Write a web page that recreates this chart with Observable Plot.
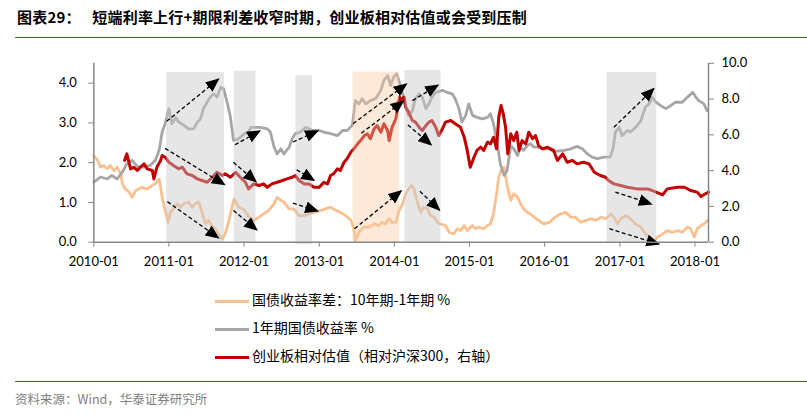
<!DOCTYPE html>
<html><head><meta charset="utf-8">
<script src="https://cdn.jsdelivr.net/npm/d3@7"></script>
<script src="https://cdn.jsdelivr.net/npm/@observablehq/plot@0.6"></script>
<style>
body{margin:0;background:#fff;}
#page{position:relative;width:807px;height:417px;overflow:hidden;font-family:"Noto Sans CJK SC",sans-serif;}
#title{position:absolute;left:17px;top:6px;font-size:15px;font-weight:bold;color:#000;white-space:nowrap;letter-spacing:0.2px;}
#title .num{margin-right:8px;}
.hr{position:absolute;left:15px;width:792px;height:0;border-top:1.5px solid #b0392e;}
#chart{position:absolute;left:0;top:50px;}
.leg{position:absolute;left:215px;font-size:14px;color:#000;white-space:nowrap;height:20px;line-height:20px;}
.leg span.sw{display:inline-block;width:34px;height:3px;vertical-align:middle;margin-right:3px;}
#src{position:absolute;left:15px;top:389px;font-size:12.5px;color:#7f7f7f;white-space:nowrap;}
</style></head>
<body><div id="page">
<div id="title"><span class="num">图表29：</span> 短端利率上行+期限利差收窄时期，创业板相对估值或会受到压制</div>
<div class="hr" style="top:37px"></div>
<div id="chart"></div>
<div class="leg" style="top:289px"><span class="sw" style="background:#fac090"></span>国债收益率差：10年期-1年期 %</div>
<div class="leg" style="top:317px"><span class="sw" style="background:#a6a6a6"></span>1年期国债收益率 %</div>
<div class="leg" style="top:345px"><span class="sw" style="background:#c00000"></span>创业板相对估值（相对沪深300，右轴）</div>
<div class="hr" style="top:381px"></div>
<div id="src">资料来源：Wind，华泰证券研究所</div>
</div>
<script>
// 1-year government bond yield (%), left axis; time in decimal years
const yieldYears = [2010.00,2010.09,2010.18,2010.24,2010.31,2010.38,2010.44,2010.51,2010.58,2010.67,2010.75,2010.82,2010.87,2010.91,2010.95,2011.00,2011.04,2011.09,2011.13,2011.20,2011.26,2011.33,2011.38,2011.42,2011.46,2011.51,2011.55,2011.60,2011.64,2011.69,2011.73,2011.78,2011.82,2011.86,2011.93,2012.00,2012.06,2012.09,2012.22,2012.31,2012.35,2012.40,2012.44,2012.49,2012.53,2012.60,2012.64,2012.68,2012.75,2012.82,2012.91,2013.00,2013.06,2013.15,2013.24,2013.31,2013.37,2013.44,2013.48,2013.53,2013.57,2013.62,2013.68,2013.75,2013.82,2013.86,2013.91,2013.95,2013.99,2014.03,2014.06,2014.11,2014.15,2014.19,2014.24,2014.28,2014.33,2014.37,2014.42,2014.46,2014.50,2014.55,2014.64,2014.70,2014.77,2014.81,2014.86,2014.90,2014.95,2014.99,2015.04,2015.10,2015.17,2015.24,2015.28,2015.32,2015.37,2015.41,2015.46,2015.50,2015.55,2015.59,2015.64,2015.68,2015.72,2015.77,2015.81,2015.86,2015.92,2015.99,2016.06,2016.12,2016.26,2016.35,2016.43,2016.50,2016.57,2016.63,2016.70,2016.79,2016.87,2016.91,2016.94,2016.99,2017.03,2017.10,2017.14,2017.21,2017.28,2017.34,2017.39,2017.43,2017.48,2017.54,2017.61,2017.68,2017.74,2017.83,2017.90,2017.97,2018.01,2018.05,2018.12,2018.16];
const yieldValues = [1.51,1.64,1.59,1.68,1.59,1.76,1.97,2.06,1.90,1.89,1.93,2.06,2.31,2.77,2.98,3.36,2.98,3.14,3.02,2.94,2.85,2.85,3.02,3.10,3.36,3.52,3.65,3.73,3.65,3.90,3.86,3.48,3.14,2.56,2.60,2.72,2.77,2.89,2.89,2.85,2.77,2.39,2.22,2.35,2.22,2.39,2.60,2.73,2.77,2.89,2.81,2.81,2.77,2.73,2.68,2.81,2.81,2.94,3.56,3.48,3.61,3.48,3.56,3.61,3.82,4.07,4.19,3.94,4.15,4.24,4.07,3.73,3.40,3.19,3.31,3.61,3.73,3.65,3.36,3.48,3.65,3.77,3.82,3.77,3.73,3.61,3.36,3.02,3.19,3.48,3.19,3.14,3.10,3.14,3.23,2.98,2.48,1.97,1.68,1.80,2.43,2.35,2.18,2.39,2.31,2.43,2.48,2.39,2.39,2.35,2.35,2.28,2.31,2.35,2.41,2.35,2.22,2.14,2.10,2.14,2.14,2.35,2.77,2.89,2.68,2.81,2.77,2.89,3.06,3.40,3.48,3.65,3.52,3.44,3.36,3.44,3.52,3.52,3.65,3.77,3.65,3.56,3.48,3.31];

// Spread 10Y - 1Y (%), left axis
const spreadYears = [2010.00,2010.05,2010.09,2010.13,2010.18,2010.22,2010.27,2010.31,2010.36,2010.38,2010.42,2010.47,2010.51,2010.56,2010.60,2010.64,2010.71,2010.78,2010.82,2010.87,2010.89,2010.91,2010.95,2010.99,2011.02,2011.06,2011.11,2011.15,2011.20,2011.26,2011.31,2011.35,2011.40,2011.44,2011.49,2011.53,2011.58,2011.62,2011.66,2011.71,2011.75,2011.80,2011.84,2011.87,2011.93,2012.00,2012.06,2012.13,2012.20,2012.26,2012.33,2012.40,2012.44,2012.49,2012.53,2012.60,2012.66,2012.73,2012.80,2012.86,2012.93,2013.02,2013.08,2013.15,2013.22,2013.28,2013.35,2013.42,2013.46,2013.48,2013.53,2013.59,2013.66,2013.73,2013.79,2013.84,2013.88,2013.93,2013.97,2014.02,2014.06,2014.11,2014.15,2014.19,2014.23,2014.26,2014.30,2014.35,2014.39,2014.44,2014.48,2014.53,2014.57,2014.61,2014.68,2014.73,2014.79,2014.84,2014.88,2014.93,2014.97,2015.04,2015.08,2015.12,2015.19,2015.24,2015.28,2015.32,2015.36,2015.39,2015.42,2015.46,2015.49,2015.52,2015.55,2015.59,2015.64,2015.68,2015.72,2015.77,2015.81,2015.86,2015.92,2015.99,2016.06,2016.14,2016.21,2016.28,2016.35,2016.41,2016.48,2016.55,2016.61,2016.68,2016.75,2016.81,2016.88,2016.92,2016.97,2017.01,2017.08,2017.14,2017.21,2017.28,2017.34,2017.41,2017.45,2017.50,2017.57,2017.63,2017.70,2017.77,2017.83,2017.90,2017.94,2017.99,2018.03,2018.08,2018.12,2018.17];
const spreadValues = [2.18,2.06,1.89,1.93,1.85,1.93,1.80,1.89,1.72,1.47,1.34,1.26,1.13,1.30,1.34,1.38,1.34,1.43,1.47,1.59,1.38,1.13,0.80,0.50,0.75,0.84,0.97,0.88,0.97,1.01,0.88,0.97,1.01,0.75,0.46,0.55,0.38,0.34,0.21,0.08,0.21,0.55,0.88,1.09,0.88,0.82,0.65,0.55,0.63,0.71,0.80,0.97,1.13,1.05,1.01,0.84,0.84,0.67,0.67,0.71,0.75,0.80,0.84,0.88,0.80,0.75,0.67,0.55,0.34,0.04,0.25,0.38,0.38,0.46,0.42,0.50,0.46,0.59,0.50,0.50,0.78,0.97,1.22,1.34,1.43,1.34,1.05,0.75,0.88,0.84,0.67,0.63,0.50,0.46,0.42,0.25,0.21,0.34,0.29,0.42,0.29,0.42,0.34,0.38,0.34,0.42,0.46,0.71,1.22,1.64,1.80,1.89,1.55,1.26,1.05,1.22,1.13,0.97,0.84,0.75,0.71,0.63,0.55,0.46,0.50,0.63,0.71,0.75,0.63,0.63,0.50,0.55,0.59,0.55,0.63,0.59,0.71,0.63,0.46,0.59,0.67,0.59,0.46,0.38,0.21,0.08,0.00,0.13,0.21,0.29,0.25,0.29,0.25,0.38,0.34,0.13,0.34,0.42,0.46,0.55];

// ChiNext relative valuation (vs CSI 300), right axis
const gemYears = [2010.41,2010.44,2010.49,2010.53,2010.58,2010.62,2010.67,2010.71,2010.78,2010.80,2010.84,2010.89,2010.91,2010.95,2011.00,2011.06,2011.13,2011.18,2011.24,2011.31,2011.38,2011.44,2011.51,2011.58,2011.64,2011.71,2011.75,2011.82,2011.89,2011.95,2012.02,2012.06,2012.13,2012.20,2012.26,2012.31,2012.37,2012.44,2012.51,2012.57,2012.64,2012.68,2012.73,2012.80,2012.86,2012.93,2013.00,2013.06,2013.11,2013.15,2013.19,2013.24,2013.28,2013.33,2013.37,2013.42,2013.46,2013.51,2013.55,2013.60,2013.64,2013.68,2013.73,2013.77,2013.82,2013.86,2013.91,2013.93,2013.97,2014.02,2014.05,2014.07,2014.08,2014.13,2014.15,2014.19,2014.24,2014.28,2014.33,2014.37,2014.42,2014.46,2014.50,2014.55,2014.59,2014.64,2014.68,2014.75,2014.81,2014.88,2014.93,2014.97,2015.01,2015.06,2015.10,2015.15,2015.19,2015.24,2015.28,2015.32,2015.36,2015.39,2015.42,2015.45,2015.48,2015.51,2015.55,2015.59,2015.63,2015.66,2015.70,2015.75,2015.79,2015.84,2015.88,2015.92,2015.97,2016.04,2016.08,2016.12,2016.17,2016.24,2016.30,2016.37,2016.43,2016.52,2016.59,2016.66,2016.74,2016.81,2016.85,2016.92,2017.01,2017.10,2017.23,2017.37,2017.45,2017.57,2017.63,2017.77,2017.86,2017.94,2018.03,2018.08,2018.14,2018.18];
const gemValues = [4.57,4.94,4.10,4.19,4.01,4.19,4.38,4.10,4.01,3.54,4.19,4.57,4.85,4.75,4.47,4.29,4.10,4.19,3.82,3.73,3.54,3.45,3.35,3.63,3.91,3.73,3.82,3.63,3.91,3.63,3.35,2.98,3.26,3.17,3.26,3.07,3.26,3.35,3.45,3.54,3.63,3.73,3.45,3.26,3.26,3.07,3.07,3.35,3.26,3.73,3.82,4.10,4.01,4.47,4.66,5.03,5.22,5.50,5.68,5.96,6.06,5.78,6.34,6.52,6.15,6.62,6.24,5.68,6.43,6.90,7.74,8.11,7.92,8.11,7.55,7.27,6.80,6.71,6.43,6.24,6.52,6.71,6.80,6.43,5.96,6.34,6.71,6.80,6.62,6.43,5.87,5.13,4.19,4.75,5.13,5.31,5.13,5.59,5.50,5.87,5.22,6.99,7.64,7.18,6.43,4.94,6.06,5.68,6.15,5.13,5.68,5.50,6.15,5.78,5.96,5.40,5.22,5.31,5.22,5.13,4.57,4.94,4.47,4.57,4.38,4.47,4.38,3.91,3.73,3.63,3.45,3.26,3.17,3.07,2.98,2.98,2.85,2.65,2.98,3.07,3.07,2.89,2.80,2.55,2.71,2.80];

// Shaded periods
const shadeStart = [2010.97,2011.87,2012.69,2013.45,2014.14,2016.83];
const shadeEnd   = [2011.74,2012.16,2012.91,2014.07,2014.62,2017.49];
const shadeTop   = [4.27,4.30,4.19,4.28,4.32,4.27];
const shadeBottom= [0,0,-0.06,0,0,0];
const shadeKind  = ["gray","gray","gray","orange","gray","gray"];

// Dashed trend arrows (left-axis units)
const arrowX1 = [2010.97,2010.95,2010.98,2011.88,2011.86,2011.86,2012.65,2012.70,2012.65,2013.45,2013.56,2013.47,2014.24,2014.18,2014.34,2016.92,2016.94,2016.86];
const arrowY1 = [3.04,2.36,1.02,2.45,2.01,0.80,2.52,1.82,0.98,2.98,2.74,0.34,3.56,2.95,1.28,2.89,1.26,0.34];
const arrowX2 = [2011.66,2011.74,2011.66,2012.21,2012.16,2012.17,2012.98,2012.93,2012.98,2014.16,2014.12,2014.09,2014.58,2014.49,2014.60,2017.45,2017.42,2017.52];
const arrowY2 = [4.10,1.45,0.11,2.80,1.52,0.31,2.80,1.56,0.78,3.98,3.55,1.29,3.95,2.45,0.81,3.86,0.96,-0.05];

const xTickYears = [2010,2011,2012,2013,2014,2015,2016,2017,2018];
const leftTicks = [0,1,2,3,4];
const rightTicks = [0,2,4,6,8,10];

const RATIO = 4.5/10; // right axis -> left axis
function yd(y){const yr=Math.floor(y+1e-9);const s=Date.UTC(yr,0,1),e=Date.UTC(yr+1,0,1);return new Date(s+(y-yr)*(e-s));}

const yieldData = yieldYears.map((t,i)=>({date:yd(t),v:yieldValues[i]}));
const spreadData = spreadYears.map((t,i)=>({date:yd(t),v:spreadValues[i]}));
const gemData = gemYears.map((t,i)=>({date:yd(t),v:gemValues[i]*RATIO}));
const shades = shadeStart.map((s,i)=>({x1:yd(s),x2:yd(shadeEnd[i]),y1:shadeBottom[i],y2:shadeTop[i],kind:shadeKind[i]}));
const arrows = arrowX1.map((x,i)=>({x1:yd(x),y1:arrowY1[i],x2:yd(arrowX2[i]),y2:arrowY2[i]}));

const xMin = yd(2010.0), xMax = yd(2018.18);
const axisGray = "#868686";

const chart = Plot.plot({
  width: 807, height: 230,
  marginLeft: 93.3, marginRight: 99, marginTop: 12.8, marginBottom: 38.3,
  style: {fontFamily: "Lato, sans-serif", fontSize: "13px", color: "#000", background: "transparent"},
  x: {type: "utc", domain: [xMin, xMax]},
  y: {domain: [0, 4.5]},
  marks: [
    Plot.line(spreadData, {x: "date", y: "v", stroke: "#fac090", strokeWidth: 2.8, strokeLinejoin: "round"}),
    Plot.line(yieldData, {x: "date", y: "v", stroke: "#a6a6a6", strokeWidth: 2.8, strokeLinejoin: "round"}),
    Plot.line(gemData, {x: "date", y: "v", stroke: "#c00000", strokeWidth: 3, strokeLinejoin: "round"}),
    Plot.rect(shades.filter(d=>d.kind==="gray"), {x1: "x1", x2: "x2", y1: "y1", y2: "y2", fill: "#c8c8c8", fillOpacity: 0.45}),
    Plot.rect(shades.filter(d=>d.kind==="orange"), {x1: "x1", x2: "x2", y1: "y1", y2: "y2", fill: "#f7c7a0", fillOpacity: 0.4}),
    Plot.link(arrows, {x1: "x1", y1: "y1", x2: "x2", y2: "y2", stroke: "#000", strokeWidth: 1.3, strokeDasharray: "4,2.5"}),
    Plot.ruleY([0], {stroke: axisGray, strokeWidth: 1.5}),
    Plot.ruleX([xMin], {stroke: axisGray, strokeWidth: 1.5}),
    Plot.ruleX([xMax], {stroke: axisGray, strokeWidth: 1.5}),
    Plot.axisX({ticks: xTickYears.map(yd), tickFormat: d3.utcFormat("%Y-%m"), tickSize: 5, tickPadding: 10, stroke: axisGray, fill: "#000", label: null}),
    Plot.axisY({anchor: "left", ticks: leftTicks, tickFormat: d => d.toFixed(1), tickSize: 5, tickPadding: 12, stroke: axisGray, fill: "#000", label: null}),
    Plot.axisY({anchor: "right", ticks: rightTicks.map(d => d*RATIO), tickFormat: d => (d/RATIO).toFixed(1), tickSize: 5, tickPadding: 8, stroke: axisGray, fill: "#000", label: null})
  ]
});
document.getElementById("chart").appendChild(chart);

// filled triangular arrowheads on the dashed links
const svgNS = "http://www.w3.org/2000/svg";
const defs = document.createElementNS(svgNS, "defs");
const marker = document.createElementNS(svgNS, "marker");
marker.setAttribute("id", "tri-head");
marker.setAttribute("viewBox", "0 0 10 10");
marker.setAttribute("refX", "9");
marker.setAttribute("refY", "5");
marker.setAttribute("markerWidth", "14");
marker.setAttribute("markerHeight", "12");
marker.setAttribute("markerUnits", "userSpaceOnUse");
marker.setAttribute("preserveAspectRatio", "none");
marker.setAttribute("orient", "auto");
const mp = document.createElementNS(svgNS, "path");
mp.setAttribute("d", "M0,0L10,5L0,10Z");
mp.setAttribute("fill", "#000");
mp.setAttribute("stroke", "none");
marker.appendChild(mp);
defs.appendChild(marker);
chart.insertBefore(defs, chart.firstChild);
const linkPaths = chart.querySelectorAll('g[aria-label="link"] path, g[aria-label="link"] line');
linkPaths.forEach(p => { p.setAttribute("marker-end", "url(#tri-head)"); p.style.markerEnd = "url(#tri-head)"; });
</script>
</body></html>
